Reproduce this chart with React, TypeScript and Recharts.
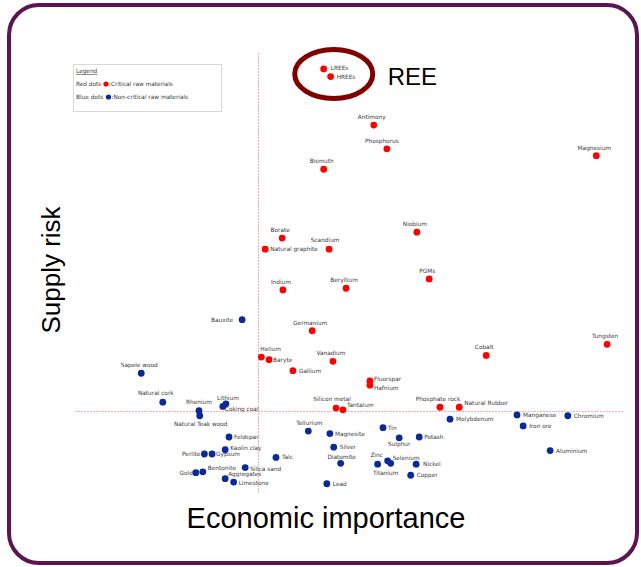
import React from 'react';
import { ScatterChart, Scatter, XAxis, YAxis, ReferenceLine, ReferenceDot } from 'recharts';

// critical raw materials (red)
const criticalNames = [
  'LREEs', 'HREEs', 'Antimony', 'Phosphorus', 'Bismuth', 'Magnesium', 'Niobium', 'Borate',
  'Natural graphite', 'Scandium', 'PGMs', 'Indium', 'Beryllium', 'Germanium', 'Helium', 'Baryte',
  'Vanadium', 'Gallium', 'Fluorspar', 'Hafnium', 'Cobalt', 'Tungsten', 'Silicon metal', 'Tantalum',
  'Phosphate rock', 'Natural Rubber',
];
const criticalImportance = [
  3.66, 3.75, 4.31, 4.48, 3.66, 7.2, 4.87, 3.12,
  2.9, 3.73, 5.03, 3.13, 3.95, 3.51, 2.85, 2.95,
  3.78, 3.26, 4.26, 4.26, 5.77, 7.34, 3.82, 3.91,
  5.17, 5.42,
];
const criticalRisk = [
  5.03, 4.94, 4.37, 4.09, 3.85, 4.01, 3.11, 3.04,
  2.91, 2.91, 2.56, 2.43, 2.45, 1.95, 1.64, 1.61,
  1.59, 1.48, 1.36, 1.31, 1.66, 1.79, 1.04, 1.02,
  1.05, 1.05,
];

// non-critical raw materials (blue)
const nonCriticalNames = [
  'Bauxite', 'Sapele wood', 'Natural cork', 'Rhenium', 'Natural Teak wood', 'Coking coal', 'Lithium',
  'Manganese', 'Chromium', 'Molybdenum', 'Iron ore', 'Aluminium', 'Tellurium', 'Tin', 'Magnesite',
  'Sulphur', 'Potash', 'Silver', 'Diatomite', 'Zinc', 'Selenium', 'Titanium', 'Nickel', 'Copper',
  'Lead', 'Feldspar', 'Kaolin clay', 'Perlite', 'Gypsum', 'Talc', 'Gold', 'Bentonite', 'Silica sand',
  'Aggregates', 'Limestone',
];
const nonCriticalImportance = [
  2.6, 1.29, 1.57, 2.04, 2.05, 2.35, 2.39,
  6.17, 6.83, 5.3, 6.25, 6.6, 3.46, 4.43, 3.74,
  4.64, 4.9, 3.79, 3.88, 4.36, 4.49, 4.53, 4.86, 4.79,
  3.7, 2.43, 2.38, 2.11, 2.21, 3.04, 2.0, 2.09, 2.64,
  2.38, 2.49,
];
const nonCriticalRisk = [
  2.08, 1.45, 1.11, 1.01, 0.95, 1.06, 1.09,
  0.96, 0.95, 0.91, 0.83, 0.54, 0.77, 0.81, 0.74,
  0.69, 0.7, 0.58, 0.39, 0.38, 0.42, 0.39, 0.38, 0.25,
  0.15, 0.7, 0.55, 0.5, 0.5, 0.46, 0.28, 0.29, 0.34,
  0.21, 0.17,
];

const importanceThreshold = 2.8;
const riskThreshold = 1.0;
const reeCentre = { ei: 3.79, sr: 4.97 };

const critical = criticalNames.map((name, i) => ({ name, ei: criticalImportance[i], sr: criticalRisk[i] }));
const nonCritical = nonCriticalNames.map((name, i) => ({ name, ei: nonCriticalImportance[i], sr: nonCriticalRisk[i] }));

// label placement: [anchor, dx, dy] relative to the dot centre
type Place = ['start' | 'middle' | 'end', number, number];
const T: Place = ['middle', -2, -8];
const R: Place = ['start', 6, 0];
const labelPos: Record<string, Place> = {
  LREEs: ['start', 7, -1], HREEs: ['start', 6, 0], Phosphorus: ['middle', -5, -8],
  'Natural graphite': ['start', 5, 0], Scandium: ['middle', -4, -9], Helium: ['start', -1, -8],
  Baryte: ['start', 4, 0], Gallium: R, Fluorspar: ['start', 4, -2], Hafnium: ['start', 4, 3],
  Tantalum: ['start', 4, -5], 'Natural Rubber': ['start', 5, -4], 'Silicon metal': ['middle', -4, -9],
  Bauxite: ['end', -9, 0], 'Natural cork': ['middle', -7, -9], 'Natural Teak wood': ['middle', 1, 8],
  'Coking coal': ['start', 2, 3], Lithium: ['middle', 2, -6], Rhenium: ['middle', 0, -9],
  Manganese: R, Chromium: R, Molybdenum: R, 'Iron ore': R, Aluminium: R, Tin: ['start', 5, 0],
  Magnesite: ['start', 5, 0], Sulphur: ['middle', 0, 6], Potash: ['start', 5, 0], Silver: R,
  Diatomite: ['middle', 1, -6], Zinc: ['middle', -1, -9], Selenium: ['start', 5, -3],
  Titanium: ['middle', -5, 10], Nickel: ['start', 7, 0], Copper: R, Lead: R, Feldspar: ['start', 5, 0],
  'Kaolin clay': ['start', 5, -2], Perlite: ['end', -4, 0], Gypsum: ['start', 4, 0], Talc: R,
  Gold: ['end', -3, 0], Bentonite: ['start', 5, -4], 'Silica sand': ['start', 5, 1],
  Aggregates: ['start', 3, -5], Limestone: ['start', 5, 1], Tellurium: ['middle', 1, -8],
};

const labelFont = '"DejaVu Sans", Verdana, sans-serif';
const RED = '#ff0000';
const BLUE = '#0a2a9b';

const makeDot = (fill: string) => (props: any) => {
  const { cx, cy, payload } = props;
  const [anchor, dx, dy] = labelPos[payload.name] ?? T;
  return (
    <g>
      <circle cx={cx} cy={cy} r={3.4} fill={fill} />
      <text x={cx + dx} y={cy + dy + 2} textAnchor={anchor} fontSize={5.8} fontFamily={labelFont} fill="#3a3a3a">
        {payload.name}
      </text>
    </g>
  );
};

// thin red dotted threshold line
const dottedLine = (props: any) => (
  <line x1={Math.round(props.x1) + 0.5} y1={Math.round(props.y1) + 0.5}
    x2={Math.round(props.x2) + 0.5} y2={Math.round(props.y2) + 0.5}
    stroke="#f25c5c" strokeWidth={1} strokeDasharray="1 2" />
);

const ReeMark = (props: any) => {
  const { cx, cy } = props;
  return (
    <g>
      <ellipse cx={cx} cy={cy} rx={39} ry={24.5} fill="none" stroke="#800000" strokeWidth={5} />
      <text x={cx + 54} y={cy + 11} fontSize={24} fontFamily="Liberation Sans, Arial" fill="#000">REE</text>
    </g>
  );
};

export default function App() {
  const W = 641;
  const H = 567;
  return (
    <div style={{ position: 'absolute', left: 0, top: 0, width: W, height: H, background: '#fff' }}>
      <div
        style={{
          position: 'absolute', left: 7, top: 3, width: 632, height: 562, boxSizing: 'border-box',
          border: '4px solid #5b1553', borderRadius: 32,
        }}
      />
      <svg width={W} height={H} style={{ position: 'absolute', left: 0, top: 0 }}>
        <text x={60} y={270} transform="rotate(-90 60 270)" textAnchor="middle" fontSize={26}
          fontFamily="Liberation Sans, Arial" fill="#000">Supply risk</text>
        <text x={326} y={528} textAnchor="middle" fontSize={29}
          fontFamily="Liberation Sans, Arial" fill="#000">Economic importance</text>
        <rect x={73.5} y={64.5} width={148} height={47} fill="#fff" stroke="#d8d8d8" />
        <g fontSize={5.8} fontFamily={labelFont} fill="#3a3a3a">
          <text x={76} y={73} textDecoration="underline">Legend</text>
          <text x={76} y={86}>Red dots</text>
          <circle cx={106} cy={84} r={2.6} fill={RED} />
          <text x={109} y={86}>:Critical raw materials</text>
          <text x={76} y={99}>Blue dots</text>
          <circle cx={108.5} cy={97} r={2.6} fill={BLUE} />
          <text x={111.5} y={99}>:Non-critical raw materials</text>
        </g>
      </svg>
      <div style={{ position: 'absolute', left: 0, top: 0 }}>
        <ScatterChart width={W} height={H} margin={{ top: 29, right: 13.9, bottom: 70.5, left: 41.9 }}>
          <XAxis type="number" dataKey="ei" domain={[0, 7.6]} allowDataOverflow hide />
          <YAxis type="number" dataKey="sr" domain={[0, 5.5]} allowDataOverflow hide width={0} />
          <ReferenceLine
            segment={[{ x: importanceThreshold, y: 0.05 }, { x: importanceThreshold, y: 5.23 }]}
            shape={dottedLine} ifOverflow="visible"
          />
          <ReferenceLine
            segment={[{ x: 0.43, y: riskThreshold }, { x: 7.53, y: riskThreshold }]}
            shape={dottedLine} ifOverflow="visible"
          />
          <ReferenceDot x={reeCentre.ei} y={reeCentre.sr} shape={ReeMark} />
          <Scatter data={critical} fill={RED} shape={makeDot(RED)} isAnimationActive={false} />
          <Scatter data={nonCritical} fill={BLUE} shape={makeDot(BLUE)} isAnimationActive={false} />
        </ScatterChart>
      </div>
    </div>
  );
}
